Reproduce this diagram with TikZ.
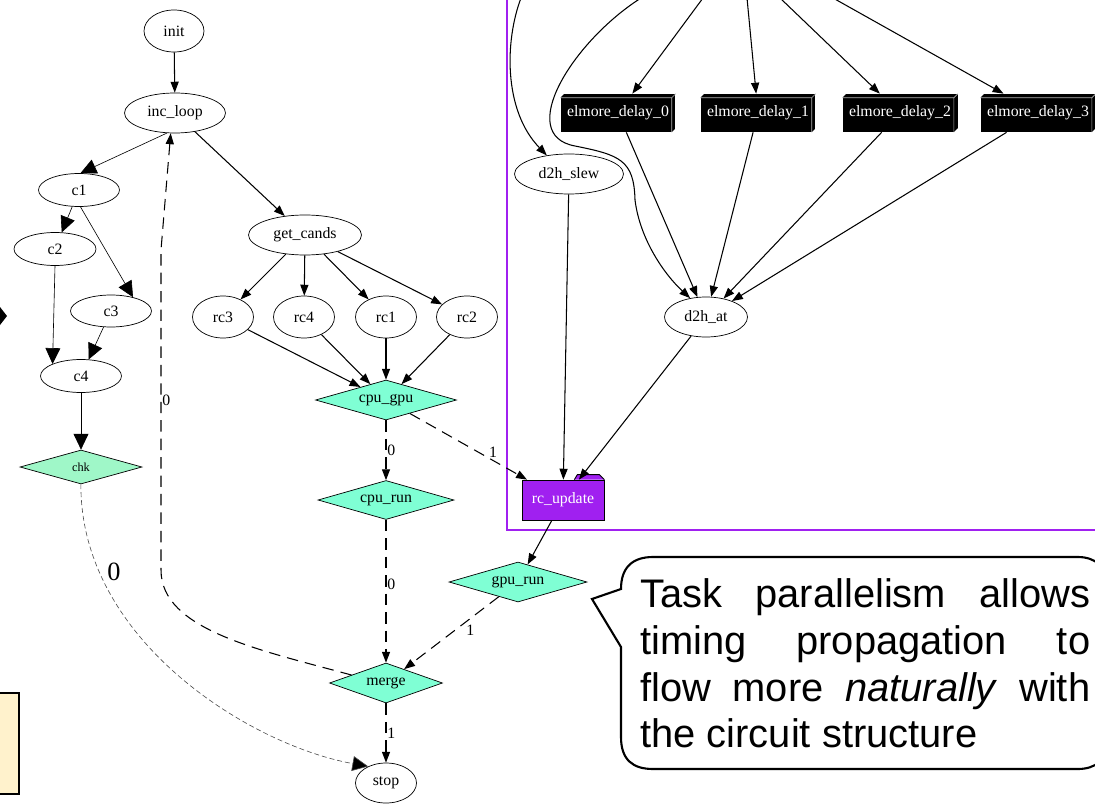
\documentclass[tikz,border=0pt]{standalone}
\usepackage{fontspec}
\setmainfont{Liberation Serif}
\newfontfamily\notefont{Liberation Sans}
\usetikzlibrary{shapes.geometric,arrows.meta,calc}

\definecolor{taskgreen}{HTML}{7FFFD4}
\definecolor{chkgreen}{HTML}{9FF7C8}
\definecolor{gvpurple}{HTML}{A020F0}
\definecolor{noteyellow}{HTML}{FFF2CC}

\tikzset{
  ell/.style={ellipse, draw, inner sep=0pt, minimum height=0.8cm, font=\fontsize{9}{10}\selectfont},
  cond/.style={diamond, draw, fill=taskgreen, inner sep=0pt, aspect=3.5, minimum height=0.8cm, font=\fontsize{9}{10}\selectfont},
  gpubox/.style={rectangle, fill=black, inner sep=0pt, minimum width=2.3cm, minimum height=0.76cm, text=white, font=\fontsize{9}{10}\selectfont},
  edge/.style={line width=0.6pt, -{Triangle[length=6.2pt,width=4.6pt]}},
  cedge/.style={line width=0.35pt, -{Triangle[length=9pt,width=8.5pt]}},
  dedge/.style={edge, dash pattern=on 6.5pt off 4pt},
  gdedge/.style={line width=0.35pt, draw=black!70, dash pattern=on 2.8pt off 1.7pt, -{Triangle[length=9pt,width=8.5pt,fill=black]}},
  lab/.style={font=\fontsize{9}{10}\selectfont, inner sep=0.5pt},
  biglab/.style={font=\fontsize{15}{16}\selectfont, inner sep=0.5pt},
  notetext/.style={text width=9cm, align=justify, inner sep=0pt, font=\notefont\fontsize{22.7}{26.7}\selectfont},
}

\begin{document}
\begin{tikzpicture}[x=0.02cm, y=-0.02cm]
\useasboundingbox (0,0) rectangle (1095,804);
\clip (0,0) rectangle (1095,804);

% loop graph
\node[ell, minimum width=1.2cm, minimum height=0.84cm] (init) at (174,31) {init};
\node[ell, minimum width=2.02cm] (incloop) at (175,113) {inc\_loop};
\node[ell, minimum width=1.62cm, minimum height=0.66cm] (c1) at (79,190) {c1};
\node[ell, minimum width=1.64cm, minimum height=0.66cm] (c2) at (55,249) {c2};
\node[ell, minimum width=1.62cm, minimum height=0.64cm] (c3) at (111,311) {c3};
\node[ell, minimum width=1.62cm, minimum height=0.66cm] (c4) at (81,376) {c4};
\node[cond, fill=chkgreen, minimum width=2.44cm, minimum height=0.68cm, font=\fontsize{7}{8}\selectfont] (chk) at (81,467) {chk};
\node[ell, minimum width=2.26cm] (getcands) at (305,235) {get\_cands};
\node[ell, minimum width=1.22cm, minimum height=0.84cm] (rc3) at (223,317) {rc3};
\node[ell, minimum width=1.22cm, minimum height=0.84cm] (rc4) at (304,317) {rc4};
\node[ell, minimum width=1.22cm, minimum height=0.84cm] (rc1) at (386,317) {rc1};
\node[ell, minimum width=1.22cm, minimum height=0.84cm] (rc2) at (467,317) {rc2};
\node[cond, minimum width=2.82cm] (cpugpu) at (386,400) {cpu\_gpu};
\node[cond, minimum width=2.72cm, minimum height=0.78cm] (cpurun) at (386,500) {cpu\_run};
\node[cond, minimum width=2.76cm] (gpurun) at (518,582) {gpu\_run};
\node[cond, minimum width=2.26cm] (merge) at (386,683) {merge};
\node[ell, minimum width=1.22cm] (stop) at (386,783) {stop};

% gpu task frame
\draw[gvpurple, line width=0.6pt] (507,-10) -- (507,530) -- (1110,530);
\node[gpubox] (ed0) at (618,113) {elmore\_delay\_0};
\node[gpubox] (ed1) at (758,113) {elmore\_delay\_1};
\node[gpubox] (ed2) at (900,113) {elmore\_delay\_2};
\node[gpubox] (ed3) at (1038,113) {elmore\_delay\_3};
\foreach \n in {ed0,ed1,ed2,ed3}{
  \fill[white] (\n.north west) -- ++(4,0) -- ++(-4,4) -- cycle;
  \fill[white] (\n.south east) -- ++(-4,0) -- ++(4,-4) -- cycle;
  \draw[gray!60, line width=0.4pt] ($(\n.north west)+(0,4)$) -- ($(\n.north east)+(-4,4)$) -- ($(\n.south east)+(-4,0)$)
    ($(\n.north east)+(-4,4)$) -- (\n.north east);
}
\node[ell, minimum width=2.18cm] (dslew) at (569,174) {d2h\_slew};
\node[ell, minimum width=1.66cm] (dat) at (706,317) {d2h\_at};
\node[rectangle, draw, fill=gvpurple, text=white, inner sep=0pt, minimum width=1.64cm, minimum height=0.8cm, font=\fontsize{9}{10}\selectfont] (rcupdate) at (563,500) {rc\_update};
\draw[fill=gvpurple, line width=0.5pt] ($(rcupdate.north east)+(-30,0)$) -- ++(3,-5) -- ++(22,0) -- (rcupdate.north east);

% sources above the frame
\coordinate (src0) at (703,-2);
\coordinate (src1) at (747,-2);
\coordinate (src2) at (780,-2);
\coordinate (src3) at (833,-2);
\coordinate (srcslew) at (521,-2);
\coordinate (srcat) at (641,-2);

\draw[edge] (init) -- (incloop);
\draw[cedge] (incloop.248) -- (c1.85);
\draw[edge] (incloop) -- (getcands);
\draw[cedge] (c1) -- (c2);
\draw[cedge] (c1.-85) -- (c3.32);
\draw[cedge] (c2.south) -- (c4.157);
\draw[cedge] (c3) -- (c4);
\draw[cedge] (c4) -- (chk);
\foreach \r in {rc3,rc4,rc1,rc2}{
  \draw[edge] (getcands) -- (\r);
  \draw[edge] (\r) -- (cpugpu);
}
\draw[dedge] (cpugpu) -- node[lab, pos=0.5, anchor=west] {0} (cpurun);
\draw[dedge] (cpugpu) -- node[lab, pos=0.71, above=1pt] {1} (rcupdate);
\draw[dedge] (cpurun) -- node[lab, pos=0.45, anchor=west] {0} (merge);
\draw[dedge] (gpurun) -- node[lab, pos=0.3, below=3pt] {1} (merge);
\draw[dedge] (merge) -- node[lab, pos=0.5, anchor=west] {1} (stop);
\draw[dedge] (merge.167) .. controls (260,650) and (161,630) .. (161,570) -- node[lab, pos=0.53, anchor=west] {0} (161,250) -- (incloop.258);
\draw[gdedge] (chk) .. controls (80,640) and (250,745) .. node[biglab, pos=0.2, anchor=west, xshift=4pt] {0} (stop.137);

\foreach \i in {0,1,2,3}{
  \draw[edge] (src\i) -- (ed\i);
  \draw[edge] (ed\i) -- (dat);
}
\draw[edge] (srcslew) .. controls (505,40) and (503,110) .. (dslew.140);
\draw[edge] (srcat) .. controls (572,42) and (515,135) .. (575,146) .. controls (620,155) and (634,160) .. (635,200) .. controls (640,240) and (665,275) .. (dat.130);
\draw[edge] (dslew) -- (rcupdate);
\draw[edge] (dat) -- (rcupdate);
\draw[edge] (rcupdate) -- (gpurun);

% cut edges at the border
\fill (0,307) -- (7,316) -- (0,325) -- cycle;
\draw[fill=noteyellow, line width=1.2pt] (-10,693) rectangle (19,794);

% speech bubble
\draw[line width=1.2pt, fill=white] (592,599) -- (621,647) -- (621,737) .. controls (621,760) and (633,769) .. (653,769) -- (1078,769) .. controls (1095,769) and (1108,760) .. (1108,740) -- (1108,587) .. controls (1108,567) and (1095,557) .. (1078,557) -- (653,557) .. controls (633,557) and (621,567) .. (621,589) -- cycle;
\node[notetext, anchor=north west] (note) at (640,578) {Task parallelism allows\linebreak timing propagation to\linebreak flow more \textit{naturally} with\linebreak the circuit structure};
\end{tikzpicture}
\end{document}
